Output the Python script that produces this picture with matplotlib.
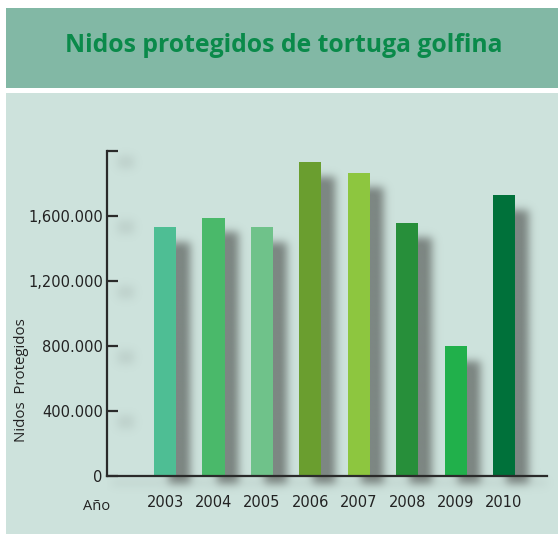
import numpy as np
import matplotlib.pyplot as plt
from matplotlib.patches import Rectangle

years = ['2003', '2004', '2005', '2006', '2007', '2008', '2009', '2010']
nests = [1530000, 1590000, 1530000, 1930000, 1865000, 1557000, 800000, 1730000]
bar_colors = ['#4ebe94', '#4ab96a', '#6fc28a', '#6a9e2f', '#8dc63f', '#278f3a', '#21b04b', '#00713a']
ytick_vals = [0, 400000, 800000, 1200000, 1600000, 2000000]
ytick_labels = ['0', '400.000', '800.000', '1,200.000', '1,600.000', '']

fig = plt.figure(figsize=(5.58, 5.34), dpi=100)
fig.patch.set_facecolor('white')

# title banner and chart panel
fig.patches.append(Rectangle((6 / 558, 1 - 88 / 534), 1, 80 / 534, transform=fig.transFigure,
                             facecolor='#82b8a5', edgecolor='none', zorder=-2))
fig.patches.append(Rectangle((6 / 558, 0), 1, 1 - 93 / 534, transform=fig.transFigure,
                             facecolor='#cde2dc', edgecolor='none', zorder=-2))
fig.text(0.509, 1 - 46 / 534, 'Nidos protegidos de tortuga golfina', ha='center', va='center',
         fontsize=17.8, fontweight='bold', color='#0a8a4a', family='Open Sans')

ax = fig.add_axes([107 / 558, 1 - 476 / 534, 440 / 558, 325 / 534])
ax.set_zorder(2)
ax.set_facecolor('none')
x = np.arange(len(years))
width = 0.455
xmin, xmax = -1.2, len(years) - 0.11
ymax = 2000000

# soft drop shadows (blurred mask in data coords)
xs = np.linspace(xmin, xmax + 0.5, 480)
ys = np.linspace(-350000, ymax + 100000, 420)
X, Y = np.meshgrid(xs, ys)
mask = np.zeros_like(X)
for xi, h in zip(x, nests):
    inside = (X > xi - width / 2 + 0.29) & (X < xi + width / 2 + 0.29) & (Y > -50000) & (Y < h - 92000)
    mask[inside] = 1.0
for t in ytick_vals[1:]:
    inside = (X > xmin + 0.22) & (X < xmin + 0.55) & (Y > t - 110000) & (Y < t - 30000)
    mask[inside] = np.maximum(mask[inside], 0.18)
inside = (X > xmin + 0.1) & (X < xmax) & (Y > -60000) & (Y < -25000)
mask[inside] = np.maximum(mask[inside], 0.15)

k = np.exp(-0.5 * (np.arange(-18, 19) / 4.5) ** 2)
k /= k.sum()
mask = np.apply_along_axis(lambda r: np.convolve(r, k, mode='same'), 1, mask)
mask = np.apply_along_axis(lambda c: np.convolve(c, k, mode='same'), 0, mask)

shadow = np.zeros(mask.shape + (4,))
shadow[..., 0] = 125 / 255
shadow[..., 1] = 135 / 255
shadow[..., 2] = 131 / 255
shadow[..., 3] = np.clip(mask * 1.05, 0, 1)
img = ax.imshow(shadow, extent=[xs[0], xs[-1], ys[0], ys[-1]], origin='lower',
                aspect='auto', interpolation='bilinear', zorder=1)
img.set_clip_on(False)

ax.bar(x, nests, width=width, color=bar_colors, zorder=3)

ax.set_xlim(xmin, xmax)
ax.set_ylim(0, ymax)
for s in ['top', 'right']:
    ax.spines[s].set_visible(False)
for s in ['left', 'bottom']:
    ax.spines[s].set_color('#2a2a2a')
    ax.spines[s].set_linewidth(1.6)
    ax.spines[s].set_zorder(4)

ax.set_yticks(ytick_vals)
ax.set_yticklabels(ytick_labels)
ax.tick_params(axis='y', direction='in', length=8, width=1.6, color='#2a2a2a', pad=3,
               labelsize=10.5, labelcolor='#222222')
ax.set_xticks(x)
ax.set_xticklabels(years)
ax.tick_params(axis='x', length=0, pad=14, labelsize=10.5, labelcolor='#222222')

fig.text(22 / 558, 1 - 380 / 534, 'Nidos  Protegidos', rotation=90, ha='center', va='center',
         fontsize=10.8, color='#222222', family='Open Sans')
fig.text(97 / 558, 1 - 507 / 534, 'Año', ha='center', va='center',
         fontsize=10.5, color='#222222', family='Open Sans')

fig.savefig('out.png', dpi=100)
